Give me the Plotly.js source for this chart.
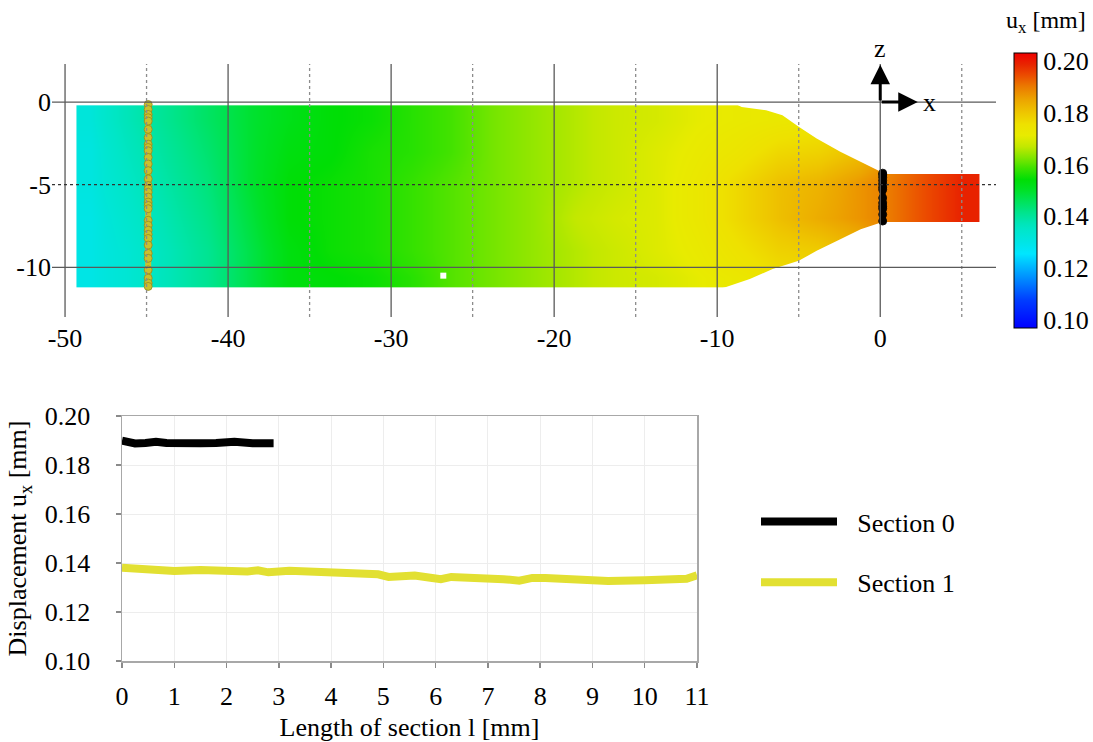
<!DOCTYPE html>
<html><head><meta charset="utf-8">
<script src="https://cdn.plot.ly/plotly-3.0.1.min.js"></script>
<style>html,body{margin:0;padding:0;background:#fff}#chart{width:1093px;height:742px}</style>
</head><body><div id="chart"></div>
<script>
// ---------- Top panel: u_x field ----------
const fieldXEdges = [-49.3, -47.5, -45, -42.5, -40, -37.5, -35, -32.5, -30, -27.5, -25, -22.5, -20, -17.5, -15, -12.5, -10, -7.5, -5, -2.5, 0, 2, 4, 6.1];
const fieldZEdges = [-11.2, -10, -8, -6, -4, -2, -0.2];
// rows from bottom (z≈-10.6) to top (z≈-1.1)
const uxRowZ106 = [0.130,0.133,0.137,0.141,0.147,0.153,0.154,0.155,0.157,0.160,0.162,0.164,0.166,0.168,0.169,0.171,0.173,0.175,0.176,0.178,0.188,0.193,0.198];
const uxRowZ9   = [0.130,0.133,0.137,0.141,0.147,0.153,0.155,0.156,0.158,0.160,0.162,0.164,0.166,0.168,0.170,0.172,0.175,0.178,0.179,0.182,0.190,0.194,0.198];
const uxRowZ7   = [0.130,0.134,0.138,0.142,0.148,0.154,0.155,0.156,0.158,0.160,0.162,0.164,0.167,0.169,0.170,0.173,0.177,0.181,0.184,0.187,0.191,0.195,0.199];
const uxRowZ5   = [0.131,0.135,0.139,0.143,0.149,0.154,0.155,0.156,0.158,0.160,0.162,0.164,0.166,0.168,0.170,0.173,0.177,0.181,0.183,0.187,0.191,0.195,0.199];
const uxRowZ3   = [0.131,0.136,0.140,0.144,0.149,0.153,0.154,0.156,0.157,0.159,0.162,0.164,0.166,0.168,0.170,0.172,0.174,0.177,0.178,0.181,0.189,0.194,0.198];
const uxRowZ1   = [0.132,0.137,0.141,0.145,0.149,0.152,0.154,0.155,0.157,0.159,0.162,0.164,0.166,0.168,0.169,0.171,0.172,0.173,0.174,0.177,0.188,0.193,0.198];

// specimen outline (empty areas around the taper and tail)
const upperGapX = [-8.9, -8.5, -7.0, -6.0, -5.0, -3.9, -2.45, -1.2, 0, 0.05, 6.3, 6.3, -8.9];
const upperGapZ = [-0.1, -0.3, -0.5, -0.8, -1.5, -2.2, -3.0, -3.6, -4.2, -4.35, -4.35, -0.1, -0.1];
const lowerGapX = [-9.9, -9.5, -8.0, -6.6, -5.0, -3.9, -2.45, -1.2, 0, 0.05, 6.3, 6.3, -9.9];
const lowerGapZ = [-11.3, -11.2, -10.7, -10.1, -9.6, -9.0, -8.3, -7.7, -7.3, -7.25, -7.25, -11.3, -11.3];
const holeX = [-26.8];
const holeZ = [-10.5];

// sections
const sectionNames = ['Section 0', 'Section 1'];
const sectionX = [0.15, -44.9];
const sectionZStart = [-4.3, -0.15];

// top axes ticks
const topXTicks = [-50, -40, -30, -20, -10, 0];
const topXTickText = ['-50', '-40', '-30', '-20', '-10', '0'];
const topXDotted = [-45, -35, -25, -15, -5, 5];
const topZTicks = [0, -5, -10];
const topZTickText = ['0', '-5', '-10'];
const topZSolid = [0, -10];
const topZDotted = [-5];
const cbTicks = [0.10, 0.12, 0.14, 0.16, 0.18, 0.20];
const cbTickText = ['0.10', '0.12', '0.14', '0.16', '0.18', '0.20'];

// ---------- Bottom panel: displacement along sections ----------
const sec0L = [0, 0.1, 0.25, 0.45, 0.65, 0.85, 1.0, 1.5, 1.8, 2.0, 2.15, 2.5, 2.9];
const sec0U = [0.1899, 0.1893, 0.1888, 0.1890, 0.1895, 0.1890, 0.1888, 0.1889, 0.1890, 0.1892, 0.1895, 0.1889, 0.1889];
const sec1L = [0, 0.3, 0.6, 0.8, 1.0, 1.5, 2.0, 2.4, 2.6, 2.8, 3.2, 3.6, 4.0, 4.5, 4.9, 5.1, 5.3, 5.6, 5.9, 6.1, 6.3, 7.0, 7.3, 7.6, 7.85, 8.1, 8.5, 9.0, 9.3, 10.0, 10.5, 10.8, 11.0];
const sec1U = [0.1381, 0.1376, 0.1376, 0.1369, 0.1367, 0.1371, 0.1364, 0.1365, 0.1370, 0.1362, 0.1368, 0.1363, 0.1360, 0.1353, 0.1354, 0.1343, 0.1347, 0.1349, 0.1340, 0.1334, 0.1343, 0.1341, 0.1334, 0.1328, 0.1339, 0.1339, 0.1334, 0.1333, 0.1327, 0.1330, 0.1332, 0.1336, 0.1350];
const botXTicks = [0,1,2,3,4,5,6,7,8,9,10,11];
const botYTicks = [0.10, 0.12, 0.14, 0.16, 0.18, 0.20];
const botYTickText = ['0.10', '0.12', '0.14', '0.16', '0.18', '0.20'];

// ---------- styling / layout helpers ----------
const W = 1093, H = 742;
const xd = p => p / W;
const yd = p => 1 - p / H;
const FONT = 'Liberation Serif';
const TXT = {family: FONT, size: 26, color: '#000000'};
const TICK = () => ({family: 'Liberation Serif', size: 26, color: '#000000'});
const sectionColors = ['#000000', '#e2e032'];
const sectionMapColors = ['#000000', '#c9bf2e'];
const sectionMapBorder = ['#000000', '#948a1e'];
const legendPad = '\u00a0\u00a0\u200a';

const colorscale = [
  [0, '#0000ff'], [0.1, '#003cff'], [0.2, '#00a0ff'], [0.27, '#00e6ff'], [0.31, '#00e5e6'],
  [0.36, '#00e6c8'], [0.38, '#00e5b8'], [0.42, '#00e48c'], [0.46, '#00e35a'], [0.50, '#00e128'],
  [0.54, '#00de05'], [0.58, '#3ce200'], [0.62, '#82e600'], [0.66, '#c3e800'], [0.70, '#e8eb00'],
  [0.74, '#eee100'], [0.78, '#eec800'], [0.83, '#eca500'], [0.88, '#eb7800'], [0.92, '#eb4b00'],
  [0.96, '#e82300'], [1, '#f00000']
];

const traces = [];
traces.push({
  type: 'heatmap', x: fieldXEdges, y: fieldZEdges,
  z: [uxRowZ106, uxRowZ9, uxRowZ7, uxRowZ5, uxRowZ3, uxRowZ1],
  zsmooth: 'best', colorscale: colorscale, zmin: 0.0969, zmax: 0.2031,
  xaxis: 'x', yaxis: 'y', hoverinfo: 'skip',
  colorbar: {
    x: xd(1014), xanchor: 'left', xpad: 0, y: yd(53), yanchor: 'top', ypad: 0,
    len: 275 / H, lenmode: 'fraction', thickness: 23, thicknessmode: 'pixels',
    outlinewidth: 1, outlinecolor: '#000',
    tickmode: 'array', tickvals: cbTicks, ticktext: cbTickText, ticks: '',
    tickfont: TICK()
  }
});
[[upperGapX, upperGapZ], [lowerGapX, lowerGapZ]].forEach(g => traces.push({
  type: 'scatter', x: g[0], y: g[1], mode: 'lines', fill: 'toself', fillcolor: '#ffffff',
  line: {width: 0, color: '#ffffff'}, xaxis: 'x', yaxis: 'y', showlegend: false, hoverinfo: 'skip'
}));
traces.push({type: 'scatter', x: holeX, y: holeZ, mode: 'markers',
  marker: {symbol: 'square', size: 6, color: '#ffffff'}, xaxis: 'x', yaxis: 'y', showlegend: false, hoverinfo: 'skip'});

// sections drawn on the field
[sec0L, sec1L].forEach((L, i) => traces.push({
  type: 'scatter', mode: 'lines+markers',
  x: L.map(() => sectionX[i]), y: L.map(l => sectionZStart[i] - l),
  line: {color: sectionMapColors[i], width: 6},
  marker: {symbol: 'circle', size: 8, color: sectionMapColors[i], line: {color: sectionMapBorder[i], width: 0.8}},
  xaxis: 'x', yaxis: 'y', showlegend: false, hoverinfo: 'skip'
}));

// bottom line chart
traces.push({type: 'scatter', mode: 'lines', name: legendPad + sectionNames[0], x: sec0L, y: sec0U,
  line: {color: sectionColors[0], width: 8}, xaxis: 'x2', yaxis: 'y2', legendgroup: 'g0'});
traces.push({type: 'scatter', mode: 'lines', name: legendPad + sectionNames[1], x: sec1L, y: sec1U,
  line: {color: sectionColors[1], width: 8}, xaxis: 'x2', yaxis: 'y2', legendgroup: 'g1'});

const shapes = [];
topXTicks.forEach(v => shapes.push({type: 'line', xref: 'x', yref: 'y domain', x0: v, x1: v, y0: 0, y1: 1, layer: 'above', line: {color: '#5a5a5a', width: 1.3}}));
topXDotted.forEach(v => shapes.push({type: 'line', xref: 'x', yref: 'y domain', x0: v, x1: v, y0: 0, y1: 1, layer: 'above', line: {color: '#8c8c8c', width: 1.3, dash: 'dot'}}));
topZSolid.forEach(v => shapes.push({type: 'line', xref: 'x domain', yref: 'y', x0: 0, x1: 1, y0: v, y1: v, layer: 'above', line: {color: '#5a5a5a', width: 1.3}}));
topZDotted.forEach(v => shapes.push({type: 'line', xref: 'x domain', yref: 'y', x0: 0, x1: 1, y0: v, y1: v, layer: 'above', line: {color: '#333333', width: 1.2, dash: 'dot'}}));
// colour bar band separators
for (let i = 1; i < 10; i++) {
  const yy = yd(53 + 27.5 * i);
  shapes.push({type: 'line', xref: 'paper', yref: 'paper', x0: xd(1014), x1: xd(1037), y0: yy, y1: yy, layer: 'above', line: {color: 'rgba(0,0,0,0.45)', width: 1.5}});
}

const annotations = [
  {xref: 'x', yref: 'y', axref: 'x', ayref: 'y', x: 0, y: 2.25, ax: 0, ay: 0, text: '', showarrow: true, arrowhead: 2, arrowsize: 1.3, arrowwidth: 3, arrowcolor: '#000'},
  {xref: 'x', yref: 'y', axref: 'x', ayref: 'y', x: 2.3, y: 0, ax: 0, ay: 0, text: '', showarrow: true, arrowhead: 2, arrowsize: 1.3, arrowwidth: 3, arrowcolor: '#000'},
  {xref: 'x', yref: 'paper', x: 0, y: yd(48), xanchor: 'center', yanchor: 'middle', text: 'z', showarrow: false, font: TXT},
  {xref: 'x', yref: 'y', x: 3.0, y: 0, xanchor: 'center', yanchor: 'middle', text: 'x', showarrow: false, font: TXT},
  {xref: 'paper', yref: 'paper', x: xd(1046), y: yd(22), xanchor: 'center', yanchor: 'middle', text: 'u<sub>x</sub> [mm]', showarrow: false, font: {family: FONT, size: 24, color: '#000'}}
];

const layout = {
  width: W, height: H, margin: {l: 0, r: 0, t: 0, b: 0},
  paper_bgcolor: '#ffffff', plot_bgcolor: 'rgba(0,0,0,0)',
  font: TXT,
  showlegend: true,
  legend: {x: xd(756), y: yd(498), xanchor: 'left', yanchor: 'top', itemwidth: 76, tracegroupgap: 24,
    font: TXT, bgcolor: 'rgba(0,0,0,0)', borderwidth: 0},
  xaxis: {domain: [xd(52), xd(996)], range: [-50.8, 7.1], anchor: 'y', showgrid: false, zeroline: false,
    showline: false, ticks: '', tickmode: 'array', tickvals: topXTicks, ticktext: topXTickText, ticklabelstandoff: 3,
    tickfont: TICK(), fixedrange: true},
  yaxis: {domain: [yd(317), yd(64)], range: [-13, 2.3], anchor: 'x', showgrid: false, zeroline: false,
    showline: false, ticks: '', tickmode: 'array', tickvals: topZTicks, ticktext: topZTickText, ticklabelstandoff: 0,
    tickfont: TICK(), fixedrange: true},
  xaxis2: {domain: [xd(122), xd(697)], range: [0, 11], anchor: 'y2', showgrid: true, gridcolor: '#ededed', gridwidth: 1,
    zeroline: false, showline: true, linecolor: '#a8a8a8', linewidth: 1.5, mirror: true,
    ticks: 'outside', ticklen: 5, tickcolor: '#8a8a8a', tickwidth: 1.5, tickmode: 'array', tickvals: botXTicks,
    ticklabelstandoff: 6, tickfont: TICK(),
    title: {text: 'Length of section l [mm]', font: TXT, standoff: 12}},
  yaxis2: {domain: [yd(661), yd(416)], range: [0.10, 0.20], anchor: 'x2', showgrid: true, gridcolor: '#ededed', gridwidth: 1,
    zeroline: false, showline: true, linecolor: '#a8a8a8', linewidth: 1.5, mirror: true,
    ticks: 'outside', ticklen: 5, tickcolor: '#8a8a8a', tickwidth: 1.5, tickmode: 'array', tickvals: botYTicks, ticktext: botYTickText,
    ticklabelstandoff: 20, tickfont: TICK(),
    title: {text: 'Displacement u<sub>x</sub> [mm]', font: TXT, standoff: 10}},
  shapes: shapes, annotations: annotations
};

Plotly.newPlot('chart', traces, layout, {displayModeBar: false, staticPlot: true});
</script></body></html>
